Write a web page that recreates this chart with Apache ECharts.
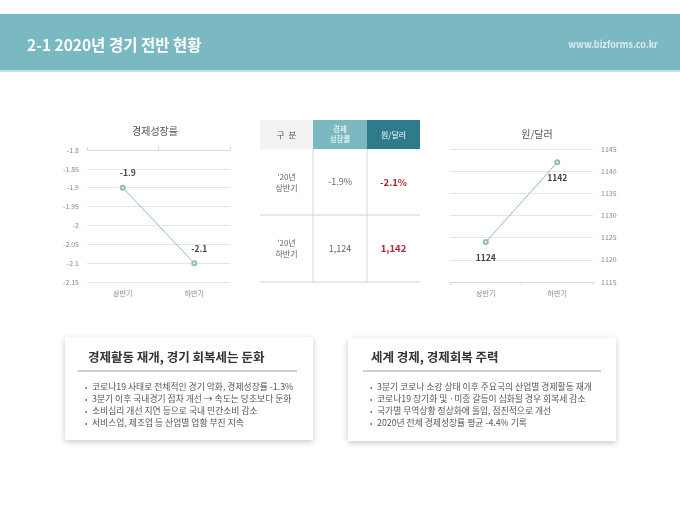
<!DOCTYPE html>
<html>
<head>
<meta charset="utf-8">
<script src="https://cdn.jsdelivr.net/npm/echarts@6/dist/echarts.min.js"></script>
<style>
  html, body { margin: 0; padding: 0; background: #fff; }
  #main { width: 680px; height: 510px; }
</style>
</head>
<body>
<div id="main"></div>
<script>
// data
var halves = ["상반기", "하반기"];
var growth = [-1.9, -2.1];
var krwUsd = [1124, 1142];
var growthTicks = [-2.15, -1.8, 0.05];   // min, max, step
var fxTicks = [1115, 1145, 5];

var tableHead = ["구  분", "경제\n성장률", "원/달러"];
var tableRows = [
    ["'20년\n상반기", "-1.9%", "-2.1%"],
    ["'20년\n하반기", "1,124", "1,142"]
];

var leftBoxTitle = "경제활동 재개, 경기 회복세는 둔화";
var leftBullets = [
    "코로나19 사태로 전체적인 경기 악화, 경제성장률 -1.3%",
    "3분기 이후 국내경기 점차 개선 → 속도는 당초보다 둔화",
    "소비심리 개선 지연 등으로 국내 민간소비 감소",
    "서비스업, 제조업 등 산업별 업황 부진 지속"
];
var rightBoxTitle = "세계 경제, 경제회복 주력";
var rightBullets = [
    "3분기 코로나 소강 상태 이후 주요국의 산업별 경제활동 재개",
    "코로나19 장기화 및 ·미중 갈등이 심화될 경우 회복세 감소",
    "국가별 무역상황 정상화에 돌입, 점진적으로 개선",
    "2020년 전체 경제성장률 평균 -4.4% 기록"
];

var FONT = '"Noto Sans CJK KR", "Noto Sans", sans-serif';
var teal = "#7ab9c2";
var darkTeal = "#2e7b8c";
var lineColor = "#8fbcbc";

var chart = echarts.init(document.getElementById("main"));

// ---- graphic pieces
var g = [];
g.push({ type: "rect", shape: { x: 0, y: 14, width: 680, height: 57 }, style: { fill: teal }, silent: true });
g.push({ type: "rect", shape: { x: 0, y: 70, width: 680, height: 2 }, style: { fill: "#c5e3e6" }, silent: true });
g.push({ type: "text", x: 27, y: 45, style: { text: "2-1 2020년 경기 전반 현황", fill: "#fff", font: "bold 15.5px " + FONT, textVerticalAlign: "middle" } });
g.push({ type: "text", x: 658, y: 45, style: { text: "www.bizforms.co.kr", fill: "#d8eef0", font: "bold 9px " + FONT, textAlign: "right", textVerticalAlign: "middle" } });

// table
var colX = [260, 313, 367, 420];
var headFill = ["#f2f2f2", teal, darkTeal];
var headText = ["#555", "#fff", "#fff"];
var headSize = ["8.5px ", "7.5px ", "8px "];
var rowY = [120, 149, 215, 282];
for (var c = 0; c < 3; c++) {
    g.push({ type: "rect", shape: { x: colX[c], y: rowY[0], width: colX[c + 1] - colX[c], height: rowY[1] - rowY[0] }, style: { fill: headFill[c] }, silent: true });
    g.push({ type: "text", x: (colX[c] + colX[c + 1]) / 2, y: (rowY[0] + rowY[1]) / 2,
        style: { text: tableHead[c], fill: headText[c], font: headSize[c] + FONT, textAlign: "center", textVerticalAlign: "middle", lineHeight: 10 } });
}
for (var r = 0; r < tableRows.length; r++) {
    var cy = (rowY[r + 1] + rowY[r + 2]) / 2;
    for (var c = 0; c < 3; c++) {
        var red = c == 2;
        g.push({ type: "text", x: (colX[c] + colX[c + 1]) / 2, y: cy,
            style: { text: tableRows[r][c], fill: red ? "#b0282e" : "#666",
                font: (red ? "bold 9.5px " : (c == 0 ? "8px " : "9px ")) + FONT,
                textAlign: "center", textVerticalAlign: "middle", lineHeight: 11 } });
    }
    g.push({ type: "line", shape: { x1: colX[0], y1: rowY[r + 2], x2: colX[3], y2: rowY[r + 2] }, style: { stroke: "#d0d0d0", lineWidth: 1 }, silent: true });
}
[313, 367].forEach(function (x) {
    g.push({ type: "line", shape: { x1: x, y1: rowY[1], x2: x, y2: rowY[3] }, style: { stroke: "#d8d8d8", lineWidth: 1 }, silent: true });
});

// text boxes
function addBox(x, y, w, h, title, bullets, lx1, lx2) {
    g.push({ type: "rect", shape: { x: x, y: y, width: w, height: h },
        style: { fill: "#fff", shadowBlur: 6, shadowColor: "rgba(0,0,0,0.22)", shadowOffsetY: 2 }, silent: true });
    g.push({ type: "text", x: x + 23, y: 357, style: { text: title, fill: "#333", font: "bold 12.5px " + FONT, textVerticalAlign: "middle" } });
    g.push({ type: "line", shape: { x1: lx1, y1: 371, x2: lx2, y2: 371 }, style: { stroke: "#8aa6a8", lineWidth: 1 }, silent: true });
    for (var i = 0; i < bullets.length; i++) {
        var by = 387 + i * 12;
        g.push({ type: "text", x: lx1 + 7, y: by, style: { text: "•", fill: "#666", font: "7px " + FONT, textVerticalAlign: "middle" } });
        g.push({ type: "text", x: lx1 + 14, y: by, style: { text: bullets[i], fill: "#555", font: "8.8px " + FONT, textVerticalAlign: "middle" } });
    }
}
addBox(65, 337, 248, 103, leftBoxTitle, leftBullets, 78, 297);
addBox(348, 338, 268, 103, rightBoxTitle, rightBullets, 363, 601);

var axisLbl = { color: "#888", fontSize: 7, fontFamily: FONT };

var option = {
    animation: false,
    textStyle: { fontFamily: FONT },
    title: [
        { text: "경제성장률", left: 150, top: 121, textAlign: "center", textStyle: { fontSize: 10, fontWeight: "normal", color: "#555", fontFamily: FONT } },
        { text: "원/달러", left: 532, top: 124, textAlign: "center", textStyle: { fontSize: 10, fontWeight: "normal", color: "#555", fontFamily: FONT } }
    ],
    grid: [
        { left: 87, top: 150, width: 143, height: 132 },
        { left: 450, top: 149, width: 143, height: 133 }
    ],
    xAxis: [
        { type: "category", gridIndex: 0, data: halves, position: "bottom",
          axisLine: { show: false }, axisTick: { show: false },
          axisLabel: Object.assign({ margin: 8, fontSize: 7.5 }, axisLbl) },
        { type: "category", gridIndex: 0, data: halves, position: "top",
          axisLine: { show: true, lineStyle: { color: "#d9d9d9" } },
          axisTick: { show: true, length: 3, lineStyle: { color: "#d9d9d9" } },
          axisLabel: { show: false } },
        { type: "category", gridIndex: 1, data: halves, position: "bottom",
          axisLine: { show: true, lineStyle: { color: "#d9d9d9" } },
          axisTick: { show: true, length: 3, lineStyle: { color: "#d9d9d9" } },
          axisLabel: Object.assign({ margin: 8, fontSize: 7.5 }, axisLbl) }
    ],
    yAxis: [
        { type: "value", gridIndex: 0, min: growthTicks[0], max: growthTicks[1], interval: growthTicks[2],
          axisLine: { show: false }, axisTick: { show: false },
          splitLine: { lineStyle: { color: "#e6e6e6" } },
          axisLabel: Object.assign({ margin: 8, formatter: function (v) { return String(Math.round(v * 100) / 100); } }, axisLbl) },
        { type: "value", gridIndex: 1, position: "right", min: fxTicks[0], max: fxTicks[1], interval: fxTicks[2],
          axisLine: { show: false }, axisTick: { show: false },
          splitLine: { lineStyle: { color: "#e6e6e6" } },
          axisLabel: Object.assign({ margin: 8, formatter: function (v) { return String(v); } }, axisLbl) }
    ],
    series: [
        { type: "line", xAxisIndex: 0, yAxisIndex: 0, data: growth,
          symbol: "emptyCircle", symbolSize: 4, itemStyle: { color: lineColor, borderWidth: 1 },
          lineStyle: { color: lineColor, width: 1 },
          label: { show: true, position: [0, -16], fontSize: 8.5, fontWeight: "bold", color: "#444",
              formatter: function (p) { return p.value.toFixed(1); } } },
        { type: "line", xAxisIndex: 2, yAxisIndex: 1, data: krwUsd,
          symbol: "emptyCircle", symbolSize: 4, itemStyle: { color: lineColor, borderWidth: 1 },
          lineStyle: { color: lineColor, width: 1 },
          label: { show: true, position: "bottom", distance: 8, fontSize: 8.5, fontWeight: "bold", color: "#444" } }
    ],
    graphic: g
};
chart.setOption(option);
</script>
</body>
</html>
